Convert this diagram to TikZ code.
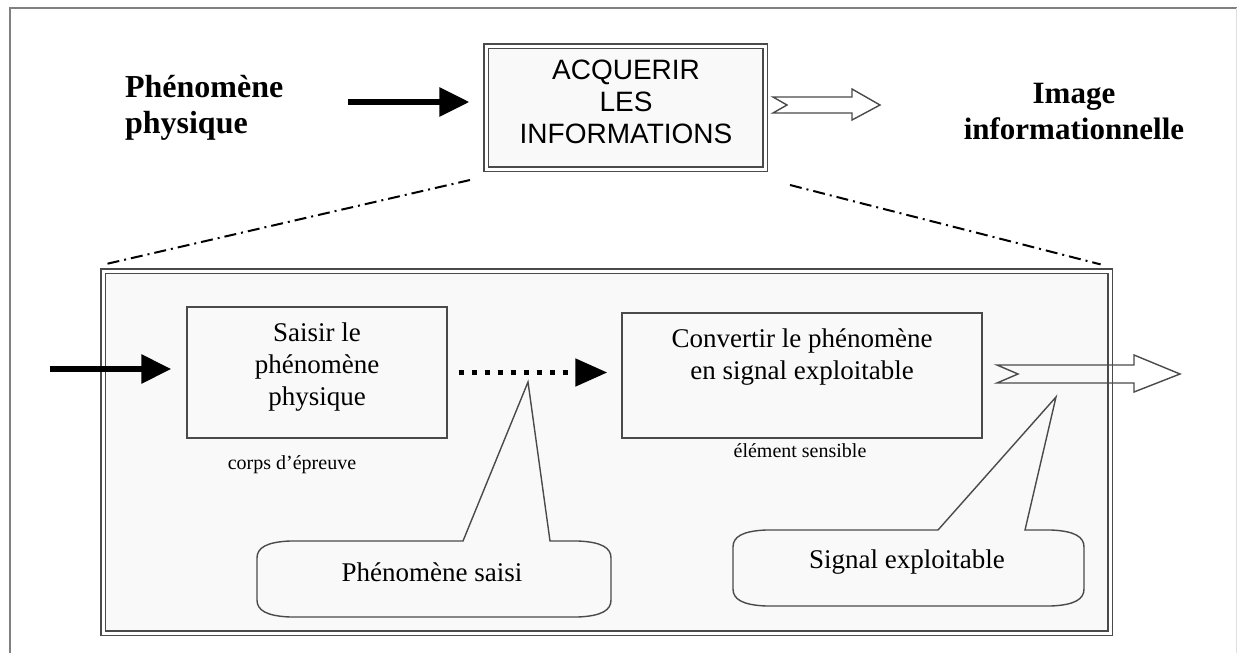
\documentclass[tikz,border=0pt]{standalone}
\usepackage{fontspec}
\setmainfont{Liberation Serif}
\newfontfamily\arialfont{Liberation Sans}
\usetikzlibrary{arrows.meta,positioning}

\definecolor{boxline}{HTML}{4A4A4A}
\definecolor{boxfill}{HTML}{F9F9F9}

\tikzset{
  dblbox/.style={draw=boxline, double=white, line width=0.6pt, double distance=1.5pt, fill=boxfill, inner sep=0pt},
  stagebox/.style={draw=boxline, line width=0.7pt, fill=boxfill, inner sep=0pt},
  stagetxt/.style={align=center, font=\fontsize{13.5}{16}\selectfont},
  bigtxt/.style={font=\fontsize{15.5}{18}\selectfont\bfseries},
  smalltxt/.style={font=\fontsize{10}{12}\selectfont},
  fatarrow/.style={line width=3pt, -{Triangle[length=15pt,width=14pt]}},
  hollow/.style={draw=boxline, line width=0.7pt},
  zoomline/.style={line width=1pt, dash pattern=on 6pt off 2.5pt on 1pt off 2.5pt},
  bubble/.style={draw=boxline, line width=0.7pt, fill=boxfill},
}

\begin{document}
\begin{tikzpicture}[x=0.5pt,y=-0.5pt]
  \useasboundingbox (0,0) rectangle (1237,653);
  % cadre de la page
  \draw[gray, line width=1pt] (10,653) -- (10,8) -- (1237,8);
  \draw[gray!25, line width=0.5pt] (1236,8) -- (1236,653);

  % niveau haut
  \node[bigtxt, align=left, anchor=west, font=\fontsize{16}{18}\selectfont\bfseries] (phen) at (118,108) {Phénomène\\physique};
  \node[dblbox, minimum width=139.5pt, minimum height=61.5pt] (acq) at (625.5,107.5) {};
  \node[align=center, font=\arialfont\fontsize{14}{16}\selectfont] (acqtxt) at (626,102) {ACQUERIR\\LES\\INFORMATIONS};
  \node[bigtxt, align=center] (img) at (1074,112) {Image\\informationnelle};

  \coordinate (inA) at (348,102);
  \draw[fatarrow, shorten >=8pt] (inA) -- (inA -| acq.west);
  \coordinate (outA) at (773,105);
  \draw[hollow] (outA) ++(0,-8) -- ++(79,0) -- ++(0,-8) -- ++(28,16) -- ++(-28,15)
    -- ++(0,-7) -- ++(-79,0) -- ++(14,-8) -- cycle;

  % detail
  \node[dblbox, minimum width=503.5pt, minimum height=181pt] (frame) at (606.5,452) {};
  \coordinate (zA) at (470,180);
  \coordinate (zB) at (790,185);
  \draw[zoomline] (zA) -- ([xshift=1pt,yshift=3pt]frame.north west);
  \draw[zoomline] (zB) -- ([xshift=-5pt,yshift=3pt]frame.north east);

  \node[stagebox, minimum width=130pt, minimum height=65.5pt] (saisir) at (317,372.5) {};
  \node[stagetxt] (saisirtxt) at (317,367) {Saisir le\\phénomène\\physique};
  \node[stagebox, minimum width=180pt, minimum height=62.5pt] (conv) at (802,375.5) {};
  \node[stagetxt] (convtxt) at (802,357) {Convertir le phénomène\\en signal exploitable};

  \node[smalltxt] (corps) at (292,465) {corps d’épreuve};
  \node[smalltxt] (elem) at (800,451) {élément sensible};

  \coordinate (inB) at (50,369);
  \draw[fatarrow, shorten >=7.5pt] (inB) -- (inB -| saisir.west);
  \draw[line width=2.5pt, dash pattern=on 2.5pt off 4pt, -{Triangle[length=16pt,width=13.5pt]},
        shorten <=5.5pt, shorten >=7pt] (saisir.east) -- (saisir.east -| conv.west);
  \coordinate (outB) at (997,374);
  \draw[hollow] (outB) ++(0,-9) -- ++(137,0) -- ++(0,-10) -- ++(46,19) -- ++(-46,18)
    -- ++(0,-9) -- ++(-137,0) -- ++(21,-9) -- cycle;

  % bulles
  \coordinate (tipA) at (528,382);
  \draw[bubble] (463,541) -- (290,541) .. controls (266,542) and (257,548) .. (257,558)
    -- (257,600) .. controls (257,610) and (266,616) .. (290,617)
    -- (578,617) .. controls (602,616) and (611,610) .. (611,600)
    -- (611,558) .. controls (611,548) and (602,542) .. (578,541)
    -- (550,541) -- (tipA) -- cycle;
  \node[stagetxt] (saisi) at (432,572) {Phénomène saisi};

  \coordinate (tipB) at (1056,397);
  \draw[bubble] (938,530) -- (766,530) .. controls (742,531) and (733,537) .. (733,547)
    -- (733,589) .. controls (733,599) and (742,605) .. (766,606)
    -- (1051,606) .. controls (1075,605) and (1084,599) .. (1084,589)
    -- (1084,547) .. controls (1084,537) and (1075,531) .. (1051,530)
    -- (1025,530) -- (tipB) -- cycle;
  \node[stagetxt] (signal) at (907,562) {Signal exploitable};
\end{tikzpicture}
\end{document}
